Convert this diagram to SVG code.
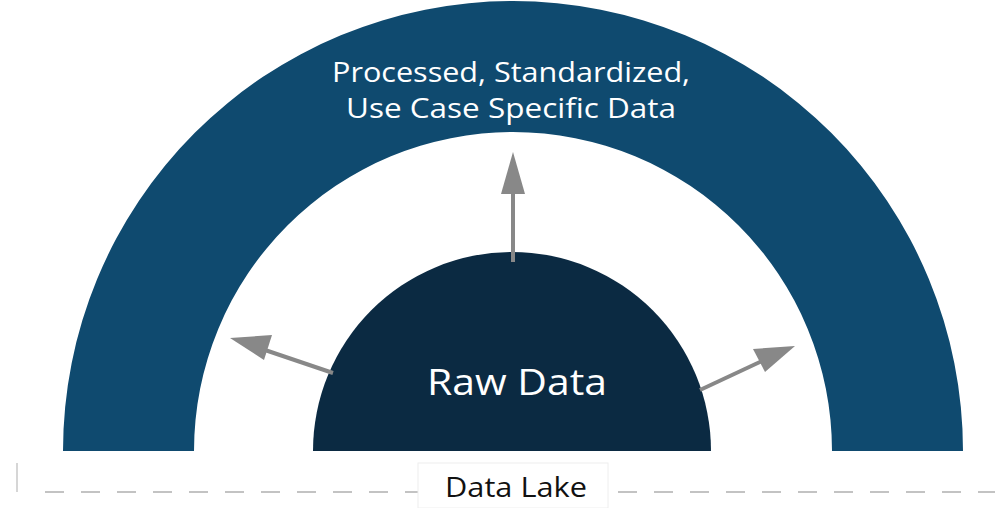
<svg xmlns="http://www.w3.org/2000/svg" width="998" height="508" viewBox="0 0 998 508">
<defs>
<style>
.lbl{font-family:"Open Sans",Lato,"Liberation Sans",sans-serif;fill:#ffffff;text-anchor:middle}
.arr{stroke:#888888;stroke-width:4;fill:none}
.head{fill:#888888}
</style>
</defs>
<rect width="998" height="508" fill="#ffffff"/>
<g id="outer">
<path d="M63,451 A450,450 0 0 1 963,451 L832,451 A319,319 0 0 0 194,451 Z" fill="#0f4a6f"/>
<text class="lbl" x="511" y="82" font-size="28" textLength="358" lengthAdjust="spacingAndGlyphs">Processed, Standardized,</text>
<text class="lbl" x="511" y="118" font-size="28" textLength="330" lengthAdjust="spacingAndGlyphs">Use Case Specific Data</text>
</g>
<g id="raw">
<path d="M313,451 A199,199 0 0 1 711,451 Z" fill="#0b2a42"/>
<text class="lbl" x="517" y="395" font-size="36" textLength="180" lengthAdjust="spacingAndGlyphs">Raw Data</text>
</g>
<g id="connectors">
<line class="arr" x1="513" y1="262" x2="513" y2="190"/>
<polygon class="head" points="513,152 525,194 501,194"/>
<line class="arr" x1="333" y1="373" x2="265" y2="350"/>
<polygon class="head" points="230,338 272,335 264,360"/>
<line class="arr" x1="700" y1="390" x2="762" y2="361"/>
<polygon class="head" points="795,346 753,349 765,372"/>
</g>
<g id="datalake">
<path d="M17,463 V492" stroke="#c8c8c8" stroke-width="1.5"/>
<line x1="45" y1="492" x2="418" y2="492" stroke="#b0b0b0" stroke-width="1.5" stroke-dasharray="19 17"/>
<line x1="612" y1="492" x2="995" y2="492" stroke="#b0b0b0" stroke-width="1.5" stroke-dasharray="19 17" stroke-dashoffset="-6"/>
<rect x="418" y="463" width="190" height="45" fill="#ffffff" stroke="#eeeeee" stroke-width="1"/>
<text x="516" y="497" font-size="27" font-family="'Open Sans',Lato,'Liberation Sans',sans-serif" fill="#111111" text-anchor="middle" textLength="142" lengthAdjust="spacingAndGlyphs">Data Lake</text>
</g>
</svg>
